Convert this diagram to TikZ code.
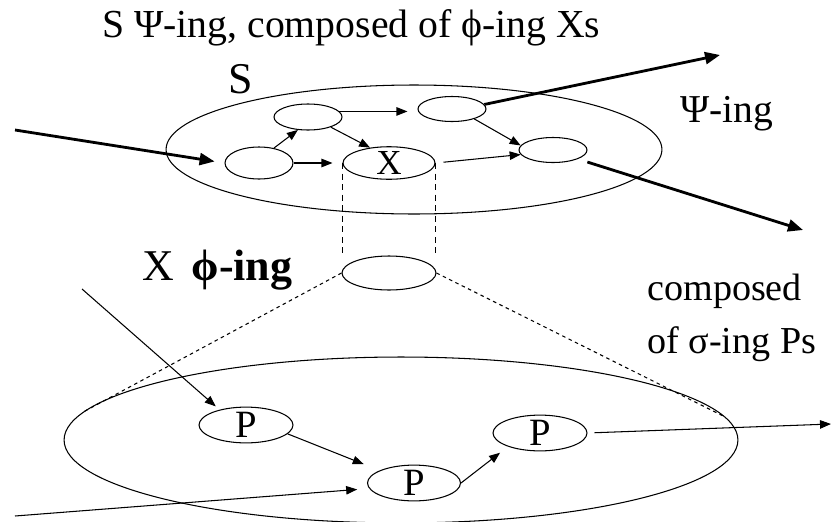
\documentclass[tikz,border=0pt]{standalone}
\usepackage{fontspec}
\setmainfont{Liberation Serif}
\usetikzlibrary{arrows.meta,shapes.geometric,calc}
\begin{document}
\begin{tikzpicture}[x=0.02cm,y=-0.02cm,
  ell/.style={draw,ellipse,inner sep=0pt,line width=0.6pt},
  thinarr/.style={line width=0.6pt,-{Triangle[length=0.22cm,width=0.17cm]}},
  thickarr/.style={line width=1.6pt,-{Triangle[length=0.3cm,width=0.24cm]}},
  vdash/.style={line width=0.6pt,dash pattern=on 3.5pt off 2.5pt},
  ddash/.style={line width=0.6pt,dash pattern=on 2pt off 2pt},
  lbl/.style={inner sep=0pt,anchor=base west}]
\useasboundingbox (0,0) rectangle (832,521);
\clip (0,0) rectangle (832,521);

% texts
\node[lbl,font=\fontsize{22.6}{26}\selectfont] (title) at (102,37) {S Ψ-ing, composed of ϕ-ing Xs};
\node[lbl,font=\fontsize{25}{28}\selectfont] (slbl) at (228,93) {S};
\node[lbl,font=\fontsize{22.5}{26}\selectfont] (psi) at (680,122) {Ψ-ing};
\node[lbl,font=\fontsize{25}{28}\selectfont] (xphi) at (142,280) {X\hspace{0.4em}\textbf{ϕ-ing}};
\node[lbl,font=\fontsize{21.7}{25}\selectfont] (comp1) at (647,300) {composed};
\node[lbl,font=\fontsize{21.7}{25}\selectfont] (comp2) at (647,353) {of σ-ing Ps};

% upper system S
\node[ell,minimum width=9.92cm,minimum height=2.58cm] (S) at (414,149.5) {};
\node[ell,minimum width=1.36cm,minimum height=0.64cm] (A) at (259,163) {};
\node[ell,minimum width=1.36cm,minimum height=0.52cm] (B) at (308,117) {};
\node[ell,minimum width=1.84cm,minimum height=0.64cm,font=\fontsize{20}{22}\selectfont] (X) at (389,163) {X};
\node[ell,minimum width=1.36cm,minimum height=0.5cm] (C) at (452,109) {};
\node[ell,minimum width=1.36cm,minimum height=0.5cm] (D) at (553,150) {};

% X zoomed
\node[ell,minimum width=1.88cm,minimum height=0.68cm] (Xs) at (389,273) {};

% lower system
\node[ell,minimum width=13.48cm,minimum height=3.32cm] (L) at (401,440) {};
\node[ell,minimum width=1.88cm,minimum height=0.68cm,font=\fontsize{22}{24}\selectfont] (P1) at (246,425) {P};
\node[ell,minimum width=1.86cm,minimum height=0.64cm,font=\fontsize{22}{24}\selectfont] (P2) at (414,483) {P};
\node[ell,minimum width=1.88cm,minimum height=0.68cm,font=\fontsize{22}{24}\selectfont] (P3) at (540,433) {P};

% free ends
\coordinate (inS) at (15,130);
\coordinate (outC) at (720,55);
\coordinate (outD) at (803,230);
\coordinate (inP1) at (82,289);
\coordinate (inP2) at (15,516);
\coordinate (outP3) at (831,424);

% upper arrows
\draw[thickarr,shorten >=0.2cm] (inS) -- (A.west);
\draw[thinarr] (A.45) -- (B.232);
\draw[thinarr] (B.-24) -- (X.141);
\draw[thinarr,shorten >=0.2cm] (A) -- (X);
\draw[thinarr,shorten >=0.2cm] (B.10) -- (B.10 -| C.west);
\draw[thinarr] (C.-24) -- (D.172);
\draw[thinarr,shorten <=0.16cm] (X.east) -- (D.188);
\draw[thickarr] (C.8) -- (outC);
\draw[thickarr,shorten <=0.2cm] (D.-20) -- (outD);

% projection
\draw[vdash] (X.west) -- (X.west |- Xs.north);
\draw[vdash] (X.east) -- (X.east |- Xs.north);
\draw[ddash] (Xs.west) -- (L.175);
\draw[ddash] (Xs.east) -- (L.4);

% lower arrows
\draw[thinarr,shorten >=0.1cm] (inP1) -- (P1.150);
\draw[thinarr,shorten >=0.34cm] (P1.-12) -- (P2.160);
\draw[thinarr,shorten >=0.2cm] (P2.east) -- (P3.203);
\draw[thinarr,shorten >=0.24cm] (inP2) -- (P2.187);
\draw[thinarr,shorten <=0.14cm] (P3.east) -- (outP3);
\end{tikzpicture}
\end{document}
